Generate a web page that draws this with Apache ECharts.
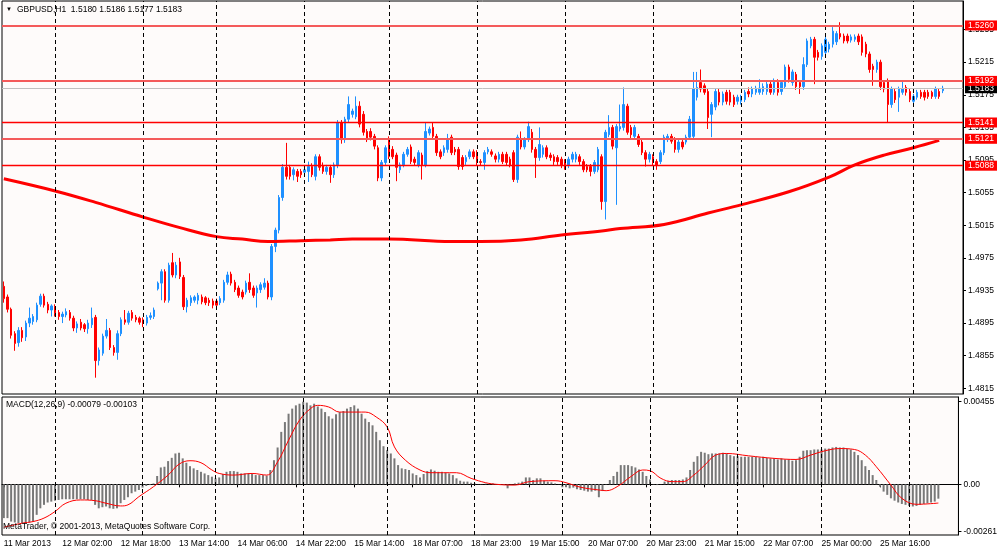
<!DOCTYPE html>
<html>
<head>
<meta charset="utf-8">
<title>GBPUSD,H1</title>
<script src="https://cdn.jsdelivr.net/npm/echarts@6/dist/echarts.min.js"></script>
<style>
    html, body { margin: 0; padding: 0; background: #ffffff; }
    #chart { width: 1000px; height: 551px; }
</style>
</head>
<body>
<div id="chart"></div>
<script>
// bars as [open, high, low, close], GBPUSD H1, 11 Mar 10:00 .. 26 Mar 08:00
var ohlc = [
    [1.4940,1.4946,1.4920,1.4925],[1.4927,1.4930,1.4908,1.4912],[1.4912,1.4914,1.4876,1.4880],[1.4882,1.4885,1.4861,1.4870],
    [1.4871,1.4890,1.4866,1.4886],[1.4886,1.4890,1.4872,1.4877],[1.4878,1.4898,1.4873,1.4895],[1.4895,1.4914,1.4890,1.4901],
    [1.4897,1.4906,1.4893,1.4903],[1.4899,1.4920,1.4896,1.4917],[1.4918,1.4931,1.4915,1.4928],[1.4928,1.4931,1.4914,1.4917],
    [1.4918,1.4921,1.4907,1.4911],[1.4911,1.4918,1.4903,1.4916],[1.4915,1.4918,1.4903,1.4907],[1.4908,1.4911,1.4899,1.4903],
    [1.4903,1.4909,1.4895,1.4906],[1.4905,1.4913,1.4902,1.4909],[1.4908,1.4911,1.4898,1.4901],[1.4901,1.4904,1.4885,1.4889],
    [1.4889,1.4897,1.4883,1.4894],[1.4896,1.4900,1.4886,1.4889],[1.4893,1.4895,1.4884,1.4888],[1.4888,1.4899,1.4882,1.4895],
    [1.4893,1.4914,1.4889,1.4901],[1.4902,1.4905,1.4828,1.4849],[1.4849,1.4865,1.4843,1.4862],[1.4858,1.4882,1.4855,1.4879],
    [1.4879,1.4900,1.4876,1.4886],[1.4886,1.4889,1.4862,1.4865],[1.4865,1.4868,1.4855,1.4859],[1.4859,1.4886,1.4850,1.4882],
    [1.4882,1.4902,1.4879,1.4899],[1.4899,1.4911,1.4893,1.4896],[1.4896,1.4910,1.4893,1.4907],[1.4908,1.4911,1.4898,1.4901],
    [1.4902,1.4905,1.4896,1.4899],[1.4901,1.4903,1.4893,1.4896],[1.4899,1.4902,1.4890,1.4895],[1.4895,1.4905,1.4892,1.4902],
    [1.4902,1.4908,1.4899,1.4904],[1.4903,1.4914,1.4900,1.4911],[1.4937,1.4946,1.4935,1.4944],[1.4944,1.4961,1.4923,1.4958],
    [1.4958,1.4961,1.4920,1.4923],[1.4923,1.4969,1.4920,1.4966],[1.4969,1.4981,1.4951,1.4954],[1.4954,1.4970,1.4950,1.4966],
    [1.4970,1.4975,1.4949,1.4952],[1.4951,1.4954,1.4911,1.4915],[1.4915,1.4926,1.4908,1.4923],[1.4920,1.4929,1.4916,1.4926],
    [1.4923,1.4929,1.4920,1.4927],[1.4923,1.4932,1.4918,1.4929],[1.4927,1.4930,1.4918,1.4921],[1.4926,1.4928,1.4917,1.4920],
    [1.4923,1.4926,1.4916,1.4920],[1.4922,1.4925,1.4913,1.4917],[1.4922,1.4925,1.4911,1.4917],[1.4920,1.4928,1.4917,1.4925],
    [1.4923,1.4948,1.4920,1.4945],[1.4945,1.4958,1.4942,1.4954],[1.4955,1.4958,1.4941,1.4944],[1.4945,1.4948,1.4933,1.4936],
    [1.4938,1.4941,1.4926,1.4929],[1.4933,1.4936,1.4924,1.4927],[1.4933,1.4947,1.4930,1.4944],[1.4945,1.4956,1.4932,1.4936],
    [1.4938,1.4941,1.4926,1.4929],[1.4932,1.4941,1.4914,1.4938],[1.4936,1.4945,1.4932,1.4942],[1.4939,1.4950,1.4936,1.4944],
    [1.4944,1.4947,1.4924,1.4927],[1.4927,1.4992,1.4923,1.4989],[1.4989,1.5012,1.4982,1.5009],[1.5009,1.5052,1.5005,1.5049],
    [1.5049,1.5090,1.5045,1.5086],[1.5086,1.5116,1.5071,1.5075],[1.5086,1.5089,1.5071,1.5075],[1.5077,1.5086,1.5070,1.5083],
    [1.5081,1.5084,1.5068,1.5075],[1.5081,1.5084,1.5073,1.5077],[1.5080,1.5087,1.5076,1.5083],[1.5081,1.5093,1.5068,1.5087],
    [1.5087,1.5091,1.5074,1.5077],[1.5075,1.5102,1.5070,1.5099],[1.5099,1.5102,1.5082,1.5086],[1.5088,1.5092,1.5078,1.5081],
    [1.5081,1.5089,1.5077,1.5086],[1.5086,1.5089,1.5067,1.5077],[1.5077,1.5092,1.5073,1.5089],[1.5089,1.5144,1.5085,1.5141],
    [1.5141,1.5144,1.5115,1.5120],[1.5120,1.5148,1.5116,1.5145],[1.5145,1.5173,1.5141,1.5163],[1.5151,1.5158,1.5147,1.5155],
    [1.5148,1.5173,1.5145,1.5161],[1.5161,1.5167,1.5135,1.5139],[1.5151,1.5155,1.5125,1.5129],[1.5130,1.5133,1.5117,1.5120],
    [1.5130,1.5134,1.5119,1.5123],[1.5124,1.5127,1.5108,1.5112],[1.5110,1.5113,1.5069,1.5073],[1.5073,1.5095,1.5069,1.5092],
    [1.5092,1.5113,1.5089,1.5110],[1.5120,1.5124,1.5096,1.5099],[1.5108,1.5112,1.5096,1.5099],[1.5101,1.5104,1.5069,1.5086],
    [1.5083,1.5092,1.5079,1.5089],[1.5089,1.5105,1.5086,1.5102],[1.5102,1.5111,1.5099,1.5108],[1.5111,1.5114,1.5090,1.5093],
    [1.5096,1.5099,1.5088,1.5092],[1.5089,1.5107,1.5086,1.5104],[1.5101,1.5104,1.5071,1.5089],[1.5089,1.5141,1.5086,1.5130],
    [1.5128,1.5136,1.5125,1.5133],[1.5135,1.5141,1.5120,1.5124],[1.5124,1.5127,1.5100,1.5104],[1.5105,1.5108,1.5096,1.5099],
    [1.5104,1.5113,1.5100,1.5110],[1.5108,1.5127,1.5104,1.5120],[1.5123,1.5126,1.5101,1.5104],[1.5108,1.5111,1.5101,1.5105],
    [1.5108,1.5111,1.5083,1.5087],[1.5098,1.5101,1.5083,1.5087],[1.5093,1.5101,1.5089,1.5098],[1.5099,1.5108,1.5096,1.5105],
    [1.5105,1.5108,1.5096,1.5099],[1.5104,1.5107,1.5088,1.5092],[1.5093,1.5096,1.5088,1.5092],[1.5092,1.5107,1.5083,1.5104],
    [1.5105,1.5111,1.5102,1.5108],[1.5105,1.5108,1.5099,1.5102],[1.5100,1.5103,1.5092,1.5096],[1.5096,1.5105,1.5092,1.5102],
    [1.5102,1.5105,1.5090,1.5093],[1.5102,1.5105,1.5088,1.5092],[1.5096,1.5099,1.5086,1.5089],[1.5104,1.5107,1.5068,1.5071],
    [1.5071,1.5126,1.5067,1.5123],[1.5120,1.5130,1.5108,1.5111],[1.5111,1.5123,1.5108,1.5120],[1.5120,1.5142,1.5117,1.5136],
    [1.5129,1.5133,1.5104,1.5108],[1.5108,1.5111,1.5073,1.5098],[1.5098,1.5135,1.5094,1.5114],[1.5102,1.5113,1.5098,1.5110],
    [1.5110,1.5113,1.5096,1.5099],[1.5101,1.5104,1.5094,1.5098],[1.5099,1.5102,1.5089,1.5093],[1.5098,1.5101,1.5089,1.5093],
    [1.5096,1.5099,1.5085,1.5089],[1.5093,1.5096,1.5083,1.5089],[1.5089,1.5099,1.5085,1.5096],[1.5096,1.5105,1.5092,1.5102],
    [1.5096,1.5105,1.5092,1.5102],[1.5099,1.5102,1.5089,1.5093],[1.5093,1.5096,1.5080,1.5083],[1.5087,1.5090,1.5080,1.5083],
    [1.5087,1.5090,1.5075,1.5081],[1.5081,1.5095,1.5078,1.5092],[1.5083,1.5111,1.5080,1.5108],[1.5099,1.5102,1.5034,1.5044],
    [1.5044,1.5132,1.5022,1.5129],[1.5126,1.5150,1.5123,1.5135],[1.5135,1.5138,1.5108,1.5112],[1.5110,1.5139,1.5040,1.5136],
    [1.5133,1.5163,1.5130,1.5136],[1.5135,1.5184,1.5131,1.5163],[1.5161,1.5164,1.5126,1.5129],[1.5135,1.5138,1.5122,1.5126],
    [1.5124,1.5138,1.5120,1.5135],[1.5124,1.5127,1.5111,1.5114],[1.5117,1.5120,1.5101,1.5104],[1.5104,1.5107,1.5087,1.5096],
    [1.5096,1.5105,1.5092,1.5102],[1.5099,1.5102,1.5088,1.5092],[1.5093,1.5096,1.5083,1.5089],[1.5093,1.5107,1.5090,1.5104],
    [1.5104,1.5126,1.5101,1.5123],[1.5120,1.5127,1.5117,1.5124],[1.5124,1.5127,1.5115,1.5118],[1.5120,1.5123,1.5104,1.5108],
    [1.5108,1.5120,1.5104,1.5117],[1.5117,1.5120,1.5108,1.5111],[1.5117,1.5126,1.5114,1.5123],[1.5123,1.5149,1.5120,1.5145],
    [1.5124,1.5203,1.5120,1.5182],[1.5172,1.5203,1.5168,1.5184],[1.5190,1.5206,1.5178,1.5182],[1.5186,1.5189,1.5175,1.5178],
    [1.5179,1.5182,1.5133,1.5147],[1.5151,1.5166,1.5123,1.5163],[1.5160,1.5182,1.5156,1.5179],[1.5178,1.5182,1.5162,1.5166],
    [1.5166,1.5179,1.5162,1.5176],[1.5178,1.5181,1.5163,1.5167],[1.5178,1.5181,1.5162,1.5166],[1.5172,1.5175,1.5160,1.5163],
    [1.5167,1.5175,1.5163,1.5172],[1.5167,1.5175,1.5163,1.5172],[1.5169,1.5181,1.5166,1.5178],[1.5179,1.5184,1.5172,1.5176],
    [1.5176,1.5185,1.5172,1.5182],[1.5178,1.5186,1.5175,1.5183],[1.5178,1.5194,1.5175,1.5183],[1.5179,1.5189,1.5175,1.5185],
    [1.5179,1.5191,1.5175,1.5188],[1.5188,1.5192,1.5175,1.5178],[1.5178,1.5195,1.5175,1.5192],[1.5190,1.5194,1.5174,1.5178],
    [1.5179,1.5193,1.5175,1.5190],[1.5185,1.5212,1.5182,1.5209],[1.5209,1.5212,1.5190,1.5194],[1.5190,1.5206,1.5186,1.5203],
    [1.5200,1.5203,1.5181,1.5185],[1.5190,1.5193,1.5176,1.5185],[1.5185,1.5221,1.5181,1.5212],[1.5212,1.5244,1.5209,1.5241],
    [1.5235,1.5246,1.5232,1.5243],[1.5243,1.5246,1.5188,1.5221],[1.5227,1.5230,1.5217,1.5221],[1.5222,1.5238,1.5218,1.5235],
    [1.5227,1.5246,1.5223,1.5243],[1.5231,1.5240,1.5227,1.5237],[1.5237,1.5258,1.5233,1.5253],[1.5240,1.5253,1.5236,1.5250],
    [1.5250,1.5264,1.5243,1.5246],[1.5247,1.5250,1.5238,1.5241],[1.5247,1.5250,1.5238,1.5241],[1.5242,1.5249,1.5239,1.5246],
    [1.5243,1.5249,1.5240,1.5246],[1.5247,1.5250,1.5236,1.5240],[1.5246,1.5249,1.5223,1.5227],[1.5237,1.5240,1.5221,1.5225],
    [1.5225,1.5228,1.5202,1.5206],[1.5210,1.5213,1.5186,1.5206],[1.5206,1.5218,1.5202,1.5215],[1.5215,1.5218,1.5181,1.5185],
    [1.5190,1.5193,1.5178,1.5182],[1.5192,1.5195,1.5141,1.5163],[1.5163,1.5185,1.5159,1.5182],[1.5179,1.5182,1.5165,1.5169],
    [1.5172,1.5185,1.5154,1.5182],[1.5178,1.5192,1.5175,1.5182],[1.5184,1.5187,1.5174,1.5178],[1.5179,1.5182,1.5166,1.5169],
    [1.5167,1.5176,1.5164,1.5173],[1.5172,1.5181,1.5169,1.5178],[1.5178,1.5181,1.5170,1.5173],[1.5178,1.5181,1.5168,1.5172],
    [1.5178,1.5181,1.5170,1.5173],[1.5178,1.5180,1.5170,1.5173],[1.5173,1.5185,1.5170,1.5182],[1.5179,1.5182,1.5170,1.5173],
    [1.5180,1.5186,1.5177,1.5183]
];

// moving average: [bar index, price]
var maPoints = [
    [0,1.5072],[14,1.5057],[25,1.5043],[38,1.5025],[48,1.5012],[58,1.5001],[65,1.4998],[72,1.4995],
    [81,1.4996],[89,1.4997],[95,1.4998],[105,1.4998],[122,1.4995],[130,1.4995],[141,1.4997],[152,1.5003],
    [163,1.5008],[168,1.5011],[180,1.5016],[192,1.5030],[201,1.5040],[214,1.5056],[225,1.5074],[232,1.5089],
    [240,1.5101],[248,1.5110],[255,1.5119]
];

// MACD(12,26,9) main histogram, one value per bar
var macdHist = [
    -0.00186,-0.00186,-0.00205,-0.00210,-0.00214,-0.00214,-0.00214,-0.00210,-0.00205,-0.00168,
    -0.00132,-0.00113,-0.00100,-0.00095,-0.00090,-0.00086,-0.00082,-0.00082,-0.00082,-0.00082,
    -0.00082,-0.00082,-0.00082,-0.00086,-0.00086,-0.00113,-0.00132,-0.00126,-0.00122,-0.00132,
    -0.00135,-0.00132,-0.00104,-0.00086,-0.00071,-0.00049,-0.00040,-0.00031,-0.00018,-0.00009,
    -0.00004,0.00005,0.00046,0.00093,0.00097,0.00128,0.00146,0.00170,0.00174,0.00143,
    0.00119,0.00100,0.00088,0.00079,0.00069,0.00060,0.00051,0.00042,0.00033,0.00038,
    0.00057,0.00069,0.00073,0.00073,0.00069,0.00060,0.00060,0.00060,0.00057,0.00051,
    0.00051,0.00051,0.00048,0.00079,0.00133,0.00203,0.00289,0.00343,0.00389,0.00417,
    0.00435,0.00444,0.00455,0.00450,0.00435,0.00444,0.00429,0.00417,0.00398,0.00375,
    0.00362,0.00386,0.00398,0.00404,0.00417,0.00426,0.00435,0.00417,0.00389,0.00362,
    0.00343,0.00325,0.00289,0.00243,0.00210,0.00188,0.00170,0.00143,0.00106,0.00088,
    0.00084,0.00079,0.00060,0.00051,0.00038,0.00057,0.00073,0.00082,0.00075,0.00069,
    0.00069,0.00064,0.00060,0.00051,0.00033,0.00020,0.00015,0.00015,0.00009,0.00005,
    0.00001,-0.00001,0.00004,0.00005,0.00005,0.00002,-0.00004,-0.00004,-0.00022,-0.00001,
    0.00005,0.00009,0.00015,0.00038,0.00038,0.00024,0.00033,0.00033,0.00020,0.00015,
    0.00011,0.00005,0.00001,-0.00016,-0.00016,-0.00022,-0.00018,-0.00027,-0.00031,-0.00035,
    -0.00040,-0.00040,-0.00035,-0.00071,-0.00037,0.00002,0.00024,0.00046,0.00069,0.00106,
    0.00106,0.00106,0.00100,0.00093,0.00082,0.00069,0.00046,0.00027,0.00002,-0.00004,
    -0.00001,0.00015,0.00020,0.00024,0.00024,0.00024,0.00027,0.00038,0.00079,0.00124,
    0.00155,0.00179,0.00174,0.00166,0.00170,0.00170,0.00170,0.00174,0.00170,0.00161,
    0.00155,0.00155,0.00152,0.00152,0.00152,0.00152,0.00152,0.00148,0.00152,0.00146,
    0.00143,0.00143,0.00137,0.00143,0.00137,0.00137,0.00130,0.00133,0.00152,0.00185,
    0.00188,0.00188,0.00192,0.00192,0.00192,0.00197,0.00197,0.00203,0.00206,0.00203,
    0.00203,0.00197,0.00192,0.00179,0.00161,0.00133,0.00100,0.00079,0.00051,0.00024,
    -0.00013,-0.00040,-0.00058,-0.00077,-0.00090,-0.00100,-0.00108,-0.00113,-0.00119,-0.00122,
    -0.00119,-0.00113,-0.00108,-0.00104,-0.00100,-0.00095,-0.00079
];

// MACD signal line: [bar index, value]
var signalPoints = [
    [0,-0.00236],[5,-0.00214],[8,-0.00205],[11,-0.00186],[14,-0.00150],[17,-0.00104],[21,-0.00086],
    [25,-0.00090],[28,-0.00104],[32,-0.00119],[34,-0.00113],[37,-0.00068],[41,-0.00013],[45,0.00051],
    [48,0.00111],[51,0.00130],[54,0.00119],[57,0.00079],[59,0.00060],[63,0.00051],[68,0.00060],
    [72,0.00051],[75,0.00124],[78,0.00243],[81,0.00353],[84,0.00417],[86,0.00435],[89,0.00426],
    [92,0.00398],[95,0.00398],[99,0.00398],[102,0.00371],[105,0.00316],[107,0.00206],[110,0.00133],
    [114,0.00079],[117,0.00064],[124,0.00064],[128,0.00033],[132,0.00009],[135,0.00000],[140,-0.00004],
    [144,0.00015],[151,0.00020],[154,0.00009],[158,-0.00016],[163,-0.00031],[165,-0.00035],[168,-0.00013],
    [172,0.00046],[175,0.00079],[177,0.00075],[180,0.00033],[183,0.00015],[186,0.00015],[189,0.00051],
    [192,0.00106],[195,0.00161],[198,0.00170],[204,0.00157],[211,0.00143],[217,0.00137],[221,0.00161],
    [225,0.00185],[229,0.00197],[233,0.00192],[236,0.00161],[239,0.00097],[243,-0.00004],[246,-0.00077],
    [250,-0.00110],[256,-0.00103]
];

// horizontal levels drawn on the chart
var levels = [1.5260, 1.5192, 1.5141, 1.5121, 1.5088];
var levelStrong = [true, true, false, true, false];
var bidPrice = 1.5183;

// day separators (bar index of each 00:00)
var daySeparators = [14, 38, 58, 82, 105, 129, 153, 177, 201, 224, 248];

// time axis labels, one every 16 bars
var timeLabels = ['11 Mar 2013', '12 Mar 02:00', '12 Mar 18:00', '13 Mar 14:00', '14 Mar 06:00',
    '14 Mar 22:00', '15 Mar 14:00', '18 Mar 07:00', '18 Mar 23:00', '19 Mar 15:00', '20 Mar 07:00',
    '20 Mar 23:00', '21 Mar 15:00', '22 Mar 07:00', '25 Mar 00:00', '25 Mar 16:00'];
var labelStep = 16;

var priceTicks = [1.4815, 1.4855, 1.4895, 1.4935, 1.4975, 1.5015, 1.5055, 1.5095, 1.5135, 1.5175, 1.5215, 1.5255];
var macdTicks = [0.00455, 0, -0.00261];

var chartShift = 5;
var FONT = 'Liberation Sans, Arial, sans-serif';
var BG = '#fefbfa';

(function () {
    var cats = [];
    for (var i = 0; i < ohlc.length + chartShift; i++) {
        cats.push(String(i));
    }
    // echarts wants [open, close, low, high]
    var candles = ohlc.map(function (b) { return [b[0], b[3], b[2], b[1]]; });

    function sepLines() {
        return daySeparators.map(function (d) {
            return {xAxis: d, lineStyle: {color: '#000', type: [4, 3], width: 1}, label: {show: false}};
        });
    }

    function levelLine(v, stroke, width, bg) {
        return {
            yAxis: v,
            lineStyle: {color: stroke, width: width, type: 'solid', opacity: 1},
            label: {
                show: true, position: 'end', distance: 2,
                formatter: v.toFixed(4),
                color: '#fff', backgroundColor: bg,
                padding: [1, 3, 0, 3], fontSize: 8.5, fontFamily: FONT
            }
        };
    }

    var levelLines = [levelLine(bidPrice, '#c0c0c0', 1, '#000')];
    levels.forEach(function (v, k) {
        var strong = levelStrong[k];
        levelLines.push(levelLine(v, strong ? '#f45a5a' : '#ff0000', strong ? 1.8 : 1.3, '#ff0000'));
    });

    function showLabel(idx) {
        return idx % labelStep === 0 && idx / labelStep < timeLabels.length;
    }

    var chart = echarts.init(document.getElementById('chart'));
    chart.setOption({
        animation: false,
        backgroundColor: '#ffffff',
        textStyle: {fontFamily: FONT},
        grid: [
            {left: 2, right: 37, top: 1, height: 393, show: true, backgroundColor: BG, borderColor: '#000', borderWidth: 1},
            {left: 2, right: 37, top: 397, height: 138, show: true, backgroundColor: BG, borderColor: '#000', borderWidth: 1}
        ],
        xAxis: [
            {
                type: 'category', gridIndex: 0, data: cats, boundaryGap: true,
                axisLine: {show: false}, axisTick: {show: false}, axisLabel: {show: false}, splitLine: {show: false}
            },
            {
                type: 'category', gridIndex: 1, data: cats, boundaryGap: true,
                axisLine: {show: true, lineStyle: {color: '#000'}},
                axisTick: {show: true, interval: function (idx) { return showLabel(idx); }, alignWithLabel: true, length: 3, lineStyle: {color: '#000'}},
                axisLabel: {
                    show: true, interval: function (idx) { return showLabel(idx); },
                    formatter: function (val, idx) { return timeLabels[idx / labelStep] || ''; },
                    align: 'left', margin: 4, color: '#000', fontSize: 8.5, fontFamily: FONT
                },
                splitLine: {show: false}
            }
        ],
        yAxis: [
            {
                type: 'value', gridIndex: 0, position: 'right', min: 1.4808, max: 1.5290,
                splitLine: {show: false},
                axisLine: {show: true, lineStyle: {color: '#000'}},
                axisTick: {show: true, customValues: priceTicks, length: 3, lineStyle: {color: '#000'}},
                axisLabel: {
                    customValues: priceTicks, margin: 5, color: '#000', fontSize: 8.5, fontFamily: FONT,
                    formatter: function (v) { return v.toFixed(4); }
                }
            },
            {
                type: 'value', gridIndex: 1, position: 'right', min: -0.00279, max: 0.00481,
                splitLine: {show: false},
                axisLine: {show: true, lineStyle: {color: '#000'}},
                axisTick: {show: true, customValues: macdTicks, length: 3, lineStyle: {color: '#000'}},
                axisLabel: {
                    customValues: macdTicks, margin: 5, color: '#000', fontSize: 8.5, fontFamily: FONT,
                    formatter: function (v) { return v === 0 ? '0.00' : v.toFixed(5); }
                }
            }
        ],
        series: [
            {
                name: 'GBPUSD', type: 'candlestick', xAxisIndex: 0, yAxisIndex: 0,
                data: candles, barWidth: 2,
                itemStyle: {color: '#1e90ff', color0: '#ff0000', borderColor: '#1e90ff', borderColor0: '#ff0000', borderWidth: 1},
                markLine: {
                    silent: true, symbol: 'none', animation: false,
                    data: sepLines()
                }
            },
            {
                name: 'MA', type: 'line', xAxisIndex: 0, yAxisIndex: 0,
                data: maPoints, smooth: 0.4, symbol: 'none',
                lineStyle: {color: '#ff0000', width: 3},
                markLine: {
                    silent: true, symbol: 'none', animation: false, precision: 4,
                    data: levelLines
                }
            },
            {
                name: 'MACD', type: 'bar', xAxisIndex: 1, yAxisIndex: 1,
                data: macdHist, barWidth: 2,
                itemStyle: {color: '#787878'},
                markLine: {
                    silent: true, symbol: 'none', animation: false,
                    data: sepLines()
                }
            },
            {
                name: 'Signal', type: 'line', xAxisIndex: 1, yAxisIndex: 1,
                data: signalPoints, smooth: 0.4, symbol: 'none',
                lineStyle: {color: '#ff0000', width: 1}
            }
        ],
        graphic: [
            {type: 'text', left: 6, top: 6, z: 10, style: {text: '\u25BC', fill: '#000', font: '6px ' + FONT}},
            {type: 'text', left: 17, top: 5, z: 10, style: {text: 'GBPUSD,H1  1.5180 1.5186 1.5177 1.5183', fill: '#000', font: '8.5px ' + FONT}},
            {type: 'text', left: 6, top: 400, z: 10, style: {text: 'MACD(12,26,9) -0.00079 -0.00103', fill: '#000', font: '8.5px ' + FONT}},
            {type: 'text', left: 3, top: 522, z: 10, style: {text: 'MetaTrader, \u00A9 2001-2013, MetaQuotes Software Corp.', fill: '#000', font: '8.5px ' + FONT}}
        ]
    });

    window.onresize = function () {
        chart.resize();
    };
})();
</script>
</body>
</html>
